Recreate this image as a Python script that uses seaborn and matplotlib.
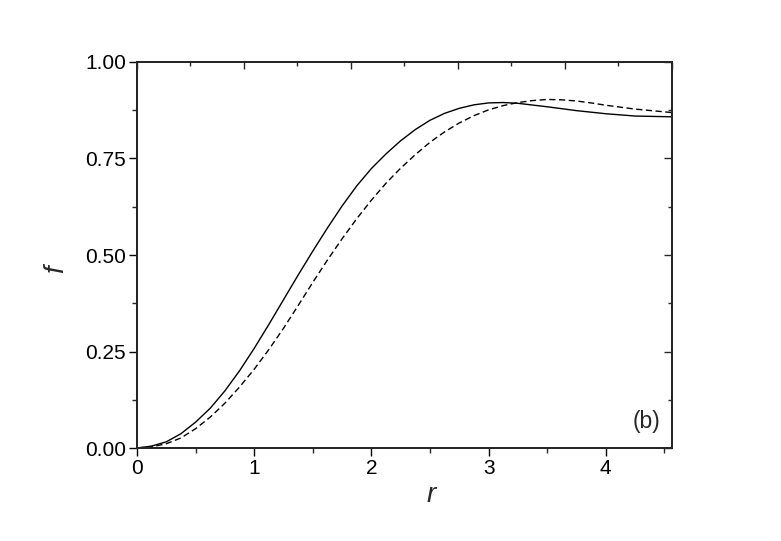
import numpy as np
import pandas as pd
import matplotlib
matplotlib.use("Agg")
import matplotlib.pyplot as plt
from matplotlib.ticker import MultipleLocator, FormatStrFormatter
import seaborn as sns

# solid curve
r_solid = [0.0, 0.125, 0.25, 0.375, 0.5, 0.625, 0.75, 0.875, 1.0, 1.125, 1.25,
           1.375, 1.5, 1.625, 1.75, 1.875, 2.0, 2.125, 2.25, 2.375, 2.5, 2.625,
           2.75, 2.875, 3.0, 3.125, 3.25, 3.5, 3.75, 4.0, 4.25, 4.565]
f_solid = [0.0, 0.005, 0.016, 0.037, 0.067, 0.103, 0.148, 0.200, 0.258, 0.320,
           0.384, 0.448, 0.510, 0.570, 0.627, 0.679, 0.724, 0.762, 0.796, 0.825,
           0.849, 0.867, 0.880, 0.889, 0.894, 0.895, 0.893, 0.884, 0.874, 0.866,
           0.860, 0.858]

# dashed curve
r_dash = [0.0, 0.125, 0.25, 0.375, 0.5, 0.625, 0.75, 0.875, 1.0, 1.125, 1.25,
          1.375, 1.5, 1.625, 1.75, 1.875, 2.0, 2.125, 2.25, 2.375, 2.5, 2.625,
          2.75, 2.875, 3.0, 3.125, 3.25, 3.375, 3.5, 3.625, 3.75, 3.875, 4.0,
          4.25, 4.565]
f_dash = [0.0, 0.003, 0.011, 0.026, 0.050, 0.080, 0.116, 0.158, 0.204, 0.255,
          0.310, 0.369, 0.429, 0.487, 0.542, 0.594, 0.642, 0.686, 0.725, 0.760,
          0.792, 0.819, 0.842, 0.861, 0.876, 0.887, 0.895, 0.900, 0.903, 0.902,
          0.899, 0.894, 0.888, 0.878, 0.869]

df = pd.concat([
    pd.DataFrame({"r": r_solid, "f": f_solid, "curve": "solid"}),
    pd.DataFrame({"r": r_dash, "f": f_dash, "curve": "dashed"}),
])

sns.set_theme(style="ticks")
plt.rcParams["font.family"] = ["Liberation Sans", "DejaVu Sans"]
plt.rcParams["mathtext.fontset"] = "custom"
plt.rcParams["mathtext.it"] = "Liberation Sans:italic"

fig = plt.figure(figsize=(7.81, 5.41), dpi=100)
ax = fig.add_axes([0.1754, 0.1719, 0.685, 0.7135])

sns.lineplot(data=df, x="r", y="f", hue="curve", style="curve",
             palette={"solid": "black", "dashed": "black"},
             dashes={"solid": "", "dashed": (4.5, 2.5)},
             linewidth=1.0, legend=False, ax=ax)

ax.set_xlim(0, 4.565)
ax.set_ylim(0, 1.0)
ax.xaxis.set_major_locator(MultipleLocator(1))
ax.xaxis.set_minor_locator(MultipleLocator(0.5))
ax.yaxis.set_major_locator(MultipleLocator(0.25))
ax.yaxis.set_minor_locator(MultipleLocator(0.125))
ax.yaxis.set_major_formatter(FormatStrFormatter("%.2f"))

ax.tick_params(axis="both", which="major", direction="out", length=6, width=1.0,
               colors="black")
ax.tick_params(axis="both", which="minor", direction="out", length=3.5, width=1.0)
ax.tick_params(axis="x", labelsize=15, pad=2)
ax.tick_params(axis="y", labelsize=15, pad=2)

for s in ax.spines.values():
    s.set_visible(True)
    s.set_linewidth(1.1)
    s.set_color("black")

# right axis: inward ticks, same positions
ax_r = ax.twinx()
ax_r.set_ylim(0, 1.0)
ax_r.yaxis.set_major_locator(MultipleLocator(0.25))
ax_r.yaxis.set_minor_locator(MultipleLocator(0.125))
ax_r.tick_params(axis="y", which="major", direction="in", length=5.5, width=1.0,
                 labelright=False)
ax_r.tick_params(axis="y", which="minor", direction="in", length=3, width=1.0)

# top axis: inward ticks at tenths of the width
ax_t = ax.twiny()
ax_t.set_xlim(0, 1)
ax_t.xaxis.set_major_locator(MultipleLocator(0.2))
ax_t.xaxis.set_minor_locator(MultipleLocator(0.1))
ax_t.tick_params(axis="x", which="major", direction="in", length=5, width=1.0,
                 labeltop=False)
ax_t.tick_params(axis="x", which="minor", direction="in", length=3, width=1.0)

ax.set_xlabel(r"$r$", fontsize=20)
ax.xaxis.label.set_verticalalignment("baseline")
ax.xaxis.set_label_coords(0.551, -0.139)
ax.set_ylabel(r"$f$", fontsize=20)
ax.yaxis.label.set_verticalalignment("baseline")
ax.yaxis.set_label_coords(-0.137, 0.466)

ax.text(0.978, 0.069, "(b)", transform=ax.transAxes, ha="right", va="center",
        fontsize=16.5)

fig.savefig("out.png", dpi=100)
